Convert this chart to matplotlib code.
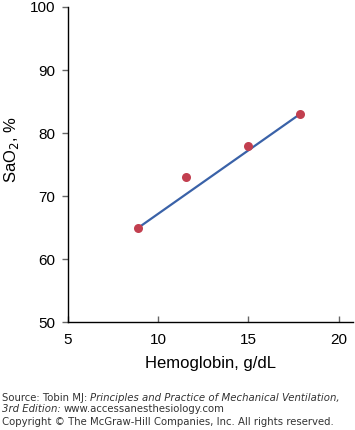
# SaO2 vs hemoglobin scatter with fitted line
import matplotlib.pyplot as plt

hemoglobin = [8.9, 11.55, 15.0, 17.85]
sao2 = [65, 73, 78, 83]

# ends of the fitted line
fit_x = [8.9, 17.85]
fit_y = [65, 83]

x_ticks = [5, 10, 15, 20]
y_ticks = [50, 60, 70, 80, 90, 100]

plt.rcParams['font.family'] = ['Liberation Sans', 'DejaVu Sans']

W, H = 355, 430
fig = plt.figure(figsize=(W/100, H/100), dpi=100)
ax = fig.add_axes([68/W, 1-322.3/H, (353-68)/W, (322.3-7)/H])

ax.plot(fit_x, fit_y, color="#3a62a8", lw=1.6, zorder=2)
ax.plot(hemoglobin, sao2, "o", color="#c23f4f", ms=6.5, mec="none", zorder=3)

ax.set_xlim(5, 20.8)
ax.set_ylim(50, 100)
ax.set_xticks(x_ticks)
ax.set_yticks(y_ticks)
ax.spines["top"].set_visible(False)
ax.spines["right"].set_visible(False)
for s in ["left", "bottom"]:
    ax.spines[s].set_linewidth(1)
ax.tick_params(axis="x", direction="in", length=4, width=1, color="#666666",
               pad=8, labelsize=11)
ax.tick_params(axis="y", direction="out", length=4, width=1, color="#666666",
               pad=5, labelsize=11)

ax.set_xlabel("Hemoglobin, g/dL", fontsize=12, labelpad=6)
fig.text(12/W, 1-150/H, "SaO$_2$, %", rotation=90, fontsize=12,
         ha="center", va="center")

# source / copyright footer
src = dict(family="DejaVu Sans", fontsize=7.3, color="#333333", va="center")
t = fig.text(2/W, 1-398/H, "Source: Tobin MJ: ", **src)
t2 = fig.text(2/W, 1-409/H, "3rd Edition: ", style="italic", **src)
fig.canvas.draw()
fig.text(t.get_window_extent().x1/W, 1-398/H,
         "Principles and Practice of Mechanical Ventilation,", style="italic", **src)
fig.text(t2.get_window_extent().x1/W, 1-409/H, "www.accessanesthesiology.com", **src)
fig.text(2/W, 1-422/H,
         "Copyright \u00a9 The McGraw-Hill Companies, Inc. All rights reserved.", **src)

fig.savefig("out.png", dpi=100)
